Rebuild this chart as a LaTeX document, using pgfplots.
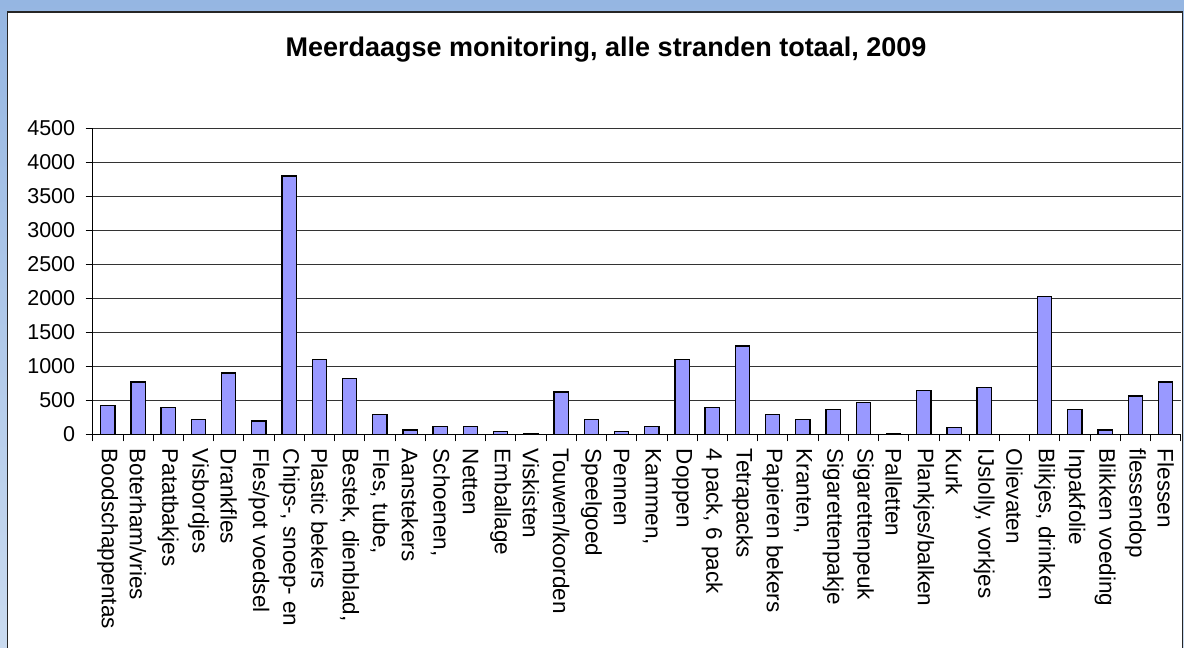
\documentclass[border=0pt]{standalone}
\usepackage{fontspec}
\setmainfont{Liberation Sans}
\usepackage{pgfplots}
\pgfplotsset{compat=1.18}
\definecolor{barfill}{HTML}{9999FF}
\definecolor{bgtop}{HTML}{95B6E2}
\definecolor{bgbot}{HTML}{CADBF0}
\begin{document}
\begin{tikzpicture}
\useasboundingbox (0,0) rectangle (1184pt,648pt);
\shade[top color=bgtop, bottom color=bgbot] (0,0) rectangle (1184pt,648pt);
\begin{scope}
\clip (0,0) rectangle (1184pt,648pt);
\draw[line width=1.6pt, draw=black!85, fill=white] (7.5pt,-20pt) rectangle (1182.5pt,636pt);
\end{scope}
\node[font=\fontsize{27}{32}\selectfont\bfseries] at (606pt,598pt) {Meerdaagse monitoring, alle stranden totaal, 2009};
\begin{axis}[
  at={(92.7pt,213.7pt)}, anchor=south west,
  scale only axis, width=1088pt, height=306pt,
  xmin=-0.5, xmax=35.5, ymin=0, ymax=4500,
  ytick={0,500,...,4500},
  xtick={0,...,35},
  minor xtick={-0.5,0.5,...,35.5},
  xticklabels={Boodschappentas, Boterham/vries, Patatbakjes, Visbordjes, Drankfles, Fles/pot voedsel, {Chips-, snoep- en}, Plastic bekers, {Bestek, dienblad,}, {Fles, tube,}, Aanstekers, {Schoenen,}, Netten, Emballage, Viskisten, Touwen/koorden, Speelgoed, Pennen, {Kammen,}, Doppen, {4 pack, 6 pack}, Tetrapacks, Papieren bekers, {Kranten,}, Sigarettenpakje, Sigarettenpeuk, Palletten, Plankjes/balken, Kurk, {IJslolly, vorkjes}, Olievaten, {Blikjes, drinken}, Inpakfolie, Blikken voeding, flessendop, Flessen},
  xticklabel style={rotate=-90, anchor=west, font=\fontsize{22.5}{26}\selectfont, xshift=4pt},
  yticklabel style={font=\fontsize{21.5}{26}\selectfont, xshift=-7pt},
  /pgf/number format/assume math mode=true,
  /pgf/number format/1000 sep={},
  axis lines*=left,
  axis line style={black, line width=1pt},
  tick align=outside,
  major tick length=7pt,
  minor tick length=7pt,
  major x tick style={draw=none},
  minor x tick style={black, line width=0.8pt},
  y tick style={black, line width=0.8pt},
  ymajorgrids,
  major grid style={black!80, line width=1pt},
  clip=false,
]
\addplot[ybar, bar width=14.3pt, fill=barfill, draw=black, line width=1.3pt] coordinates {
(0,420) (1,770) (2,390) (3,220) (4,900) (5,195) (6,3800) (7,1095) (8,820) (9,295)
(10,65) (11,115) (12,115) (13,45) (14,15) (15,620) (16,220) (17,45) (18,115) (19,1100)
(20,390) (21,1300) (22,295) (23,220) (24,365) (25,470) (26,15) (27,640) (28,95) (29,690)
(30,0) (31,2025) (32,365) (33,65) (34,565) (35,770)
};
\end{axis}
\end{tikzpicture}
\end{document}
